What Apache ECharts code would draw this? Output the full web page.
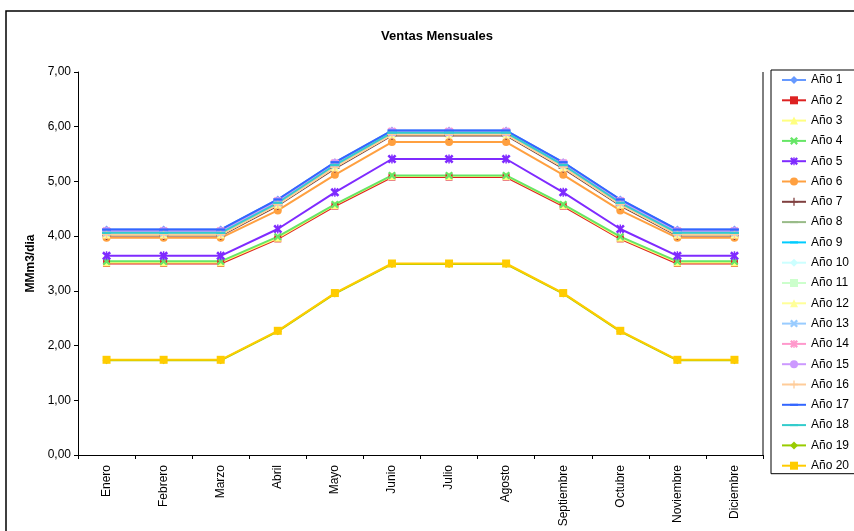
<!DOCTYPE html>
<html>
<head>
<meta charset="utf-8">
<script src="https://cdn.jsdelivr.net/npm/echarts@6/dist/echarts.min.js"></script>
<style>
  html, body { margin: 0; padding: 0; background: #fff; }
  #chart { width: 854px; height: 531px; }
</style>
</head>
<body>
<div id="chart"></div>
<script>
// Meses del año
const meses = ['Enero', 'Febrero', 'Marzo', 'Abril', 'Mayo', 'Junio', 'Julio',
  'Agosto', 'Septiembre', 'Octubre', 'Noviembre', 'Diciembre'];

// Ventas mensuales por año (MMm3/dia)
const ano1  = [4.12, 4.12, 4.12, 4.67, 5.35, 5.93, 5.93, 5.93, 5.35, 4.67, 4.12, 4.12];
const ano2  = [3.50, 3.50, 3.50, 3.95, 4.55, 5.08, 5.08, 5.08, 4.55, 3.95, 3.50, 3.50];
const ano3  = [3.52, 3.52, 3.52, 3.97, 4.57, 5.10, 5.10, 5.10, 4.57, 3.97, 3.52, 3.52];
const ano4  = [3.54, 3.54, 3.54, 3.99, 4.58, 5.11, 5.11, 5.11, 4.58, 3.99, 3.54, 3.54];
const ano5  = [3.64, 3.64, 3.64, 4.13, 4.80, 5.41, 5.41, 5.41, 4.80, 4.13, 3.64, 3.64];
const ano6  = [3.97, 3.97, 3.97, 4.47, 5.12, 5.72, 5.72, 5.72, 5.12, 4.47, 3.97, 3.97];
const ano7  = [4.01, 4.01, 4.01, 4.56, 5.24, 5.84, 5.84, 5.84, 5.24, 4.56, 4.01, 4.01];
const ano8  = [4.03, 4.03, 4.03, 4.58, 5.26, 5.86, 5.86, 5.86, 5.26, 4.58, 4.03, 4.03];
const ano9  = [4.06, 4.06, 4.06, 4.61, 5.30, 5.89, 5.89, 5.89, 5.30, 4.61, 4.06, 4.06];
const ano10 = [4.06, 4.06, 4.06, 4.61, 5.30, 5.89, 5.89, 5.89, 5.30, 4.61, 4.06, 4.06];
const ano11 = [4.06, 4.06, 4.06, 4.61, 5.30, 5.89, 5.89, 5.89, 5.30, 4.61, 4.06, 4.06];
const ano12 = [4.03, 4.03, 4.03, 4.58, 5.26, 5.86, 5.86, 5.86, 5.26, 4.58, 4.03, 4.03];
const ano13 = [4.06, 4.06, 4.06, 4.61, 5.30, 5.89, 5.89, 5.89, 5.30, 4.61, 4.06, 4.06];
const ano14 = [4.09, 4.09, 4.09, 4.64, 5.33, 5.91, 5.91, 5.91, 5.33, 4.64, 4.09, 4.09];
const ano15 = [4.09, 4.09, 4.09, 4.64, 5.33, 5.91, 5.91, 5.91, 5.33, 4.64, 4.09, 4.09];
const ano16 = [4.03, 4.03, 4.03, 4.58, 5.26, 5.86, 5.86, 5.86, 5.26, 4.58, 4.03, 4.03];
const ano17 = [4.12, 4.12, 4.12, 4.67, 5.35, 5.93, 5.93, 5.93, 5.35, 4.67, 4.12, 4.12];
const ano18 = [4.06, 4.06, 4.06, 4.61, 5.30, 5.89, 5.89, 5.89, 5.30, 4.61, 4.06, 4.06];
const ano19 = [1.73, 1.73, 1.73, 2.26, 2.95, 3.49, 3.49, 3.49, 2.95, 2.26, 1.73, 1.73];
const ano20 = [1.74, 1.74, 1.74, 2.27, 2.96, 3.50, 3.50, 3.50, 2.96, 2.27, 1.74, 1.74];

// Marcas de escala del eje vertical
const ticksY = [0, 1, 2, 3, 4, 5, 6, 7];

// Formas de marcador (caja de 10x10 para que no se deformen en la leyenda)
const SYM_X = 'path://M2,0L5,3L8,0L10,2L7,5L10,8L8,10L5,7L2,10L0,8L3,5L0,2Z';
const SYM_AST = 'path://M2,0L5,3L8,0L10,2L7,5L10,8L8,10L5,7L2,10L0,8L3,5L0,2Z M4.2,0H5.8V10H4.2Z';
const SYM_PLUS = 'path://M4.2,0H5.8V4.2H10V5.8H5.8V10H4.2V5.8H0V4.2H4.2Z';
const SYM_DASH = 'path://M0,0M10,10M0,3.7H10V6.3H0Z';

const estilos = [
  { name: 'Año 1',  data: ano1,  color: '#6699FF', symbol: 'diamond',  size: 8 },
  { name: 'Año 2',  data: ano2,  color: '#DD2222', symbol: 'rect',     size: 7 },
  { name: 'Año 3',  data: ano3,  color: '#FFFF80', symbol: 'triangle', size: 8 },
  { name: 'Año 4',  data: ano4,  color: '#66E666', symbol: SYM_X,      size: 8 },
  { name: 'Año 5',  data: ano5,  color: '#7F2BFF', symbol: SYM_AST,    size: 9 },
  { name: 'Año 6',  data: ano6,  color: '#FFA040', symbol: 'circle',   size: 8 },
  { name: 'Año 7',  data: ano7,  color: '#804040', symbol: SYM_PLUS,   size: 9 },
  { name: 'Año 8',  data: ano8,  color: '#99BB88', symbol: SYM_DASH,   size: 9 },
  { name: 'Año 9',  data: ano9,  color: '#00CCFF', symbol: SYM_DASH,   size: 9 },
  { name: 'Año 10', data: ano10, color: '#CCFFFF', symbol: 'diamond',  size: 8 },
  { name: 'Año 11', data: ano11, color: '#CCFFCC', symbol: 'rect',     size: 7 },
  { name: 'Año 12', data: ano12, color: '#FFFF99', symbol: 'triangle', size: 8 },
  { name: 'Año 13', data: ano13, color: '#99CCFF', symbol: SYM_X,      size: 8 },
  { name: 'Año 14', data: ano14, color: '#FF99CC', symbol: SYM_AST,    size: 9 },
  { name: 'Año 15', data: ano15, color: '#CC99FF', symbol: 'circle',   size: 8 },
  { name: 'Año 16', data: ano16, color: '#FFCC99', symbol: SYM_PLUS,   size: 9 },
  { name: 'Año 17', data: ano17, color: '#3366FF', symbol: SYM_DASH,   size: 9 },
  { name: 'Año 18', data: ano18, color: '#33CCCC', symbol: SYM_DASH,   size: 9 },
  { name: 'Año 19', data: ano19, color: '#99CC00', symbol: 'diamond',  size: 8 },
  { name: 'Año 20', data: ano20, color: '#FFCC00', symbol: 'rect',     size: 8 }
];

const FONT = '"Liberation Sans", Arial, sans-serif';

const series = estilos.map(s => ({
  name: s.name,
  type: 'line',
  data: s.data,
  symbol: s.symbol,
  symbolSize: s.size,
  symbolKeepAspect: true,
  showSymbol: true,
  lineStyle: { color: s.color, width: 2 },
  itemStyle: { color: s.color },
  emphasis: { disabled: true },
  animation: false
}));

const chart = echarts.init(document.getElementById('chart'), null, { renderer: 'canvas' });

chart.setOption({
  backgroundColor: '#fff',
  animation: false,
  title: {
    text: 'Ventas Mensuales',
    left: 432,
    top: 25,
    textAlign: 'center',
    textStyle: { fontFamily: FONT, fontSize: 13, fontWeight: 'bold', color: '#000' }
  },
  grid: { left: 78, right: 91, top: 72, bottom: 76, containLabel: false },
  legend: {
    orient: 'vertical',
    left: 771,
    top: 70,
    padding: [4, 30, 2, 10],
    itemWidth: 24,
    itemHeight: 10,
    itemGap: 8.3,
    symbolKeepAspect: true,
    borderColor: '#000',
    borderWidth: 1,
    backgroundColor: '#fff',
    selectedMode: false,
    textStyle: { fontFamily: FONT, fontSize: 12, color: '#000', lineHeight: 12 },
    data: estilos.map(s => s.name)
  },
  xAxis: {
    type: 'category',
    data: meses,
    boundaryGap: true,
    axisLine: { lineStyle: { color: '#000', width: 1 } },
    axisTick: { show: true, length: 4, lineStyle: { color: '#000' } },
    axisLabel: {
      rotate: 90,
      interval: 0,
      margin: 10,
      fontFamily: FONT,
      fontSize: 12,
      color: '#000'
    },
    splitLine: { show: false }
  },
  yAxis: {
    type: 'value',
    min: ticksY[0],
    max: ticksY[ticksY.length - 1],
    interval: 1,
    name: 'MMm3/dia',
    nameLocation: 'middle',
    nameGap: 41,
    nameTextStyle: { fontFamily: FONT, fontSize: 12, fontWeight: 'bold', color: '#000' },
    axisLine: { show: true, lineStyle: { color: '#000', width: 1 } },
    axisTick: { show: true, length: 4, lineStyle: { color: '#000' } },
    axisLabel: {
      margin: 7,
      fontFamily: FONT,
      fontSize: 12,
      color: '#000',
      formatter: v => v.toFixed(2).replace('.', ',')
    },
    splitLine: { show: false }
  },
  graphic: [
    {
      type: 'rect',
      shape: { x: 6, y: 11, width: 870, height: 540 },
      style: { fill: 'none', stroke: '#000', lineWidth: 1.5 },
      silent: true,
      z: 100
    },
    {
      type: 'line',
      shape: { x1: 763, y1: 72, x2: 763, y2: 455 },
      style: { stroke: '#000', lineWidth: 1 },
      silent: true
    }
  ],
  series: series
});
</script>
</body>
</html>
